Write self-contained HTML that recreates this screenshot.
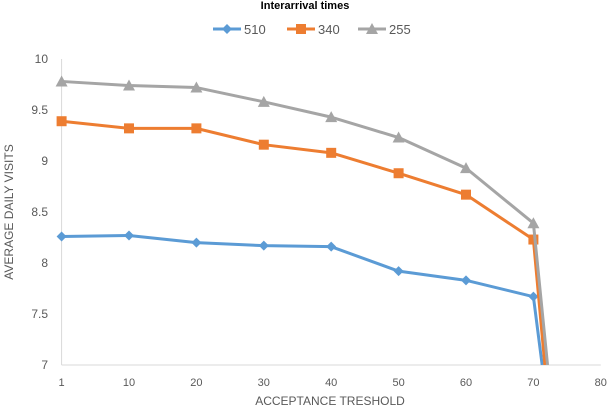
<!DOCTYPE html>
<html><head><meta charset="utf-8"><style>
body{margin:0;background:#fff;font-family:"Liberation Sans",sans-serif;}
svg text{font-family:"Liberation Sans",sans-serif;fill:#595959;}
</style></head><body>
<svg width="610" height="409">
<text x="305" y="9" text-anchor="middle" font-size="11" font-weight="bold" style="fill:#000">Interarrival times</text>
<g id="legend"></g>
<g id="axes"></g>
<g id="plot"></g>
<text x="330" y="405" text-anchor="middle" font-size="12">ACCEPTANCE TRESHOLD</text>
<text transform="translate(13,212) rotate(-90)" text-anchor="middle" font-size="12">AVERAGE DAILY VISITS</text>
</svg>
<script>
const xVals=[0,10,20,30,40,50,60,70];
const xTickVals=[0,10,20,30,40,50,60,70,80];
const xTickLabels=["1","10","20","30","40","50","60","70","80"];
const yTicks=[7,7.5,8,8.5,9,9.5,10];
const yTickLabels=["7","7.5","8","8.5","9","9.5","10"];
const seriesNames=["510","340","255"];
const s510=[8.26,8.27,8.20,8.17,8.16,7.92,7.83,7.67];
const s340=[9.39,9.32,9.32,9.16,9.08,8.88,8.67,8.23];
const s255=[9.78,9.74,9.72,9.58,9.43,9.23,8.93,8.39];
const dropX=[71.3,71.7,72.1];
const dropY=[7,7,7];
const colors=["#5b9bd5","#ed7d31","#a5a5a5"];
const NS="http://www.w3.org/2000/svg";
const X=v=>61.6+v*6.74, Y=v=>365-(v-7)*102;
function mk(t,a,p){const e=document.createElementNS(NS,t);for(const k in a)e.setAttribute(k,a[k]);p.appendChild(e);return e;}
const axes=document.getElementById('axes'),plot=document.getElementById('plot'),leg=document.getElementById('legend');
let l=mk('line',{x1:X(0),x2:X(80),y1:Y(7),y2:Y(7),stroke:'#d9d9d9'},axes);


l=mk('line',{x1:X(0),x2:X(0),y1:Y(10),y2:Y(7),stroke:'#d9d9d9'},axes);


xTickVals.forEach((v,i)=>{const t=mk('text',{x:X(v),y:386,'text-anchor':'middle','font-size':11},axes);t.textContent=xTickLabels[i];

});
yTicks.forEach((v,i)=>{const t=mk('text',{x:48,y:Y(v)+4,'text-anchor':'end','font-size':12},axes);t.textContent=yTickLabels[i];

});
const cp=mk('clipPath',{id:'cp'},plot);mk('rect',{x:0,y:0,width:610,height:Y(7)},cp);
function marker(k,x,y,g){const c=colors[k];
 if(k===0)return mk('path',{d:`M${x} ${y-5}L${x+5} ${y}L${x} ${y+5}L${x-5} ${y}Z`,fill:c},g);
 if(k===1)return mk('rect',{x:x-5,y:y-5,width:10,height:10,fill:c},g);
 return mk('path',{d:`M${x} ${y-6}L${x+6} ${y+5}L${x-6} ${y+5}Z`,fill:c},g);}
[s510,s340,s255].forEach((s,k)=>{
 const g=mk('g',{'clip-path':'url(#cp)'},plot);
 
 
 const pts=s.map((v,i)=>X(xVals[i])+','+Y(v));pts.push(X(dropX[k])+','+Y(dropY[k]));
 mk('polyline',{points:pts.join(' '),fill:'none',stroke:colors[k],'stroke-width':3,'stroke-linejoin':'round'},g);
 s.forEach((v,i)=>{const m=marker(k,X(xVals[i]),Y(v),g);
  
  });
 const lx=[213,287,358][k];
 const lg=mk('g',{},leg);
 
 
 mk('line',{x1:lx,x2:lx+28,y1:29,y2:29,stroke:colors[k],'stroke-width':3},lg);
 marker(k,lx+14,29,lg);
 const t=mk('text',{x:lx+31,y:34,'font-size':13},lg);t.textContent=seriesNames[k];
});
</script>
</body></html>
